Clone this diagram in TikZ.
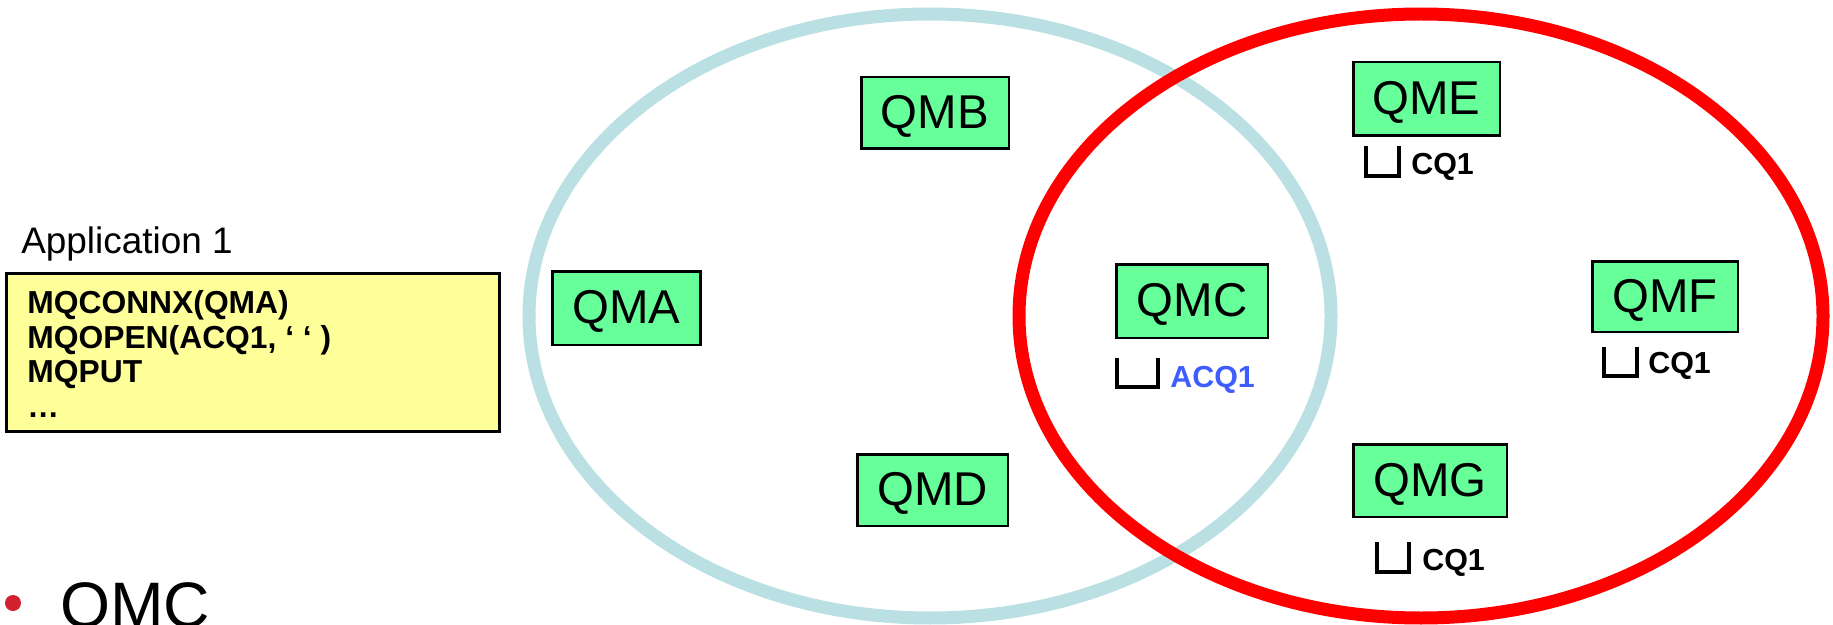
\documentclass[tikz,border=0pt]{standalone}
\usepackage{fontspec}
\setmainfont{Liberation Sans}
\usepackage{tikz}
\definecolor{clusterblue}{HTML}{BAE0E3}
\definecolor{qmgreen}{HTML}{66FF99}
\definecolor{appyellow}{HTML}{FFFF99}
\definecolor{acqblue}{HTML}{3F5CFF}
\definecolor{bulletred}{HTML}{D2202F}
\tikzset{
  qmbox/.style={draw=black, fill=qmgreen, line width=1.7pt, inner sep=0pt, text height=18.2pt, text depth=0pt, font=\fontsize{27}{30}\selectfont},
  qlabel/.style={anchor=base west, inner sep=0pt, font=\fontsize{17.3}{20}\selectfont\bfseries},
  qsym/.style={line width=1.9pt, line cap=butt},
  cluster/.style={line width=0.26cm}
}
\begin{document}
\begin{tikzpicture}[x=0.02cm, y=-0.02cm]
      \useasboundingbox (0, 0) rectangle (1833, 625);
      % the two clusters
      \draw[cluster, color=clusterblue] (930, 316) ellipse [x radius=401, y radius=302];
      \draw[cluster, color=red] (1421, 316) ellipse [x radius=402, y radius=302];
      % queue managers
      \node[qmbox, minimum width=2.98cm, minimum height=1.48cm] (qma) at (626.5, 308) {QMA};
      \node[qmbox, minimum width=2.96cm, minimum height=1.44cm] (qmb) at (935, 113) {QMB};
      \node[qmbox, minimum width=3.04cm, minimum height=1.48cm] (qmc) at (1192, 301) {QMC};
      \node[qmbox, minimum width=3.02cm, minimum height=1.44cm] (qmd) at (932.5, 490) {QMD};
      \node[qmbox, minimum width=2.94cm, minimum height=1.48cm] (qme) at (1426.5, 99) {QME};
      \node[qmbox, minimum width=2.92cm, minimum height=1.42cm] (qmf) at (1665, 296.5) {QMF};
      \node[qmbox, minimum width=3.08cm, minimum height=1.46cm] (qmg) at (1430, 480.5) {QMG};
      % queues
      \draw[qsym] (1117, 358) -- (1117, 387) -- (1158, 387) -- (1158, 358);
      \node[qlabel, text=acqblue] (acq) at (1170, 387) {ACQ1};
      \draw[qsym] (1366, 146) -- (1366, 176) -- (1399, 176) -- (1399, 146);
      \node[qlabel] (cqe) at (1411, 174) {CQ1};
      \draw[qsym] (1604, 347) -- (1604, 376) -- (1637, 376) -- (1637, 347);
      \node[qlabel] (cqf) at (1648, 373) {CQ1};
      \draw[qsym] (1377, 542) -- (1377, 572) -- (1409, 572) -- (1409, 542);
      \node[qlabel] (cqg) at (1422, 570) {CQ1};
      % application
      \node[anchor=base west, inner sep=0pt, font=\fontsize{21}{24}\selectfont] (apptitle) at (21, 253) {Application 1};
      \node[draw=black, fill=appyellow, line width=1.7pt, minimum width=9.88cm, minimum height=3.18cm] (appbox) at (253, 352.5) {};
      \node[anchor=north west, inner sep=0pt, align=left, font=\fontsize{18.1}{19.7}\selectfont\bfseries] (appcode) at (27, 290) {MQCONNX(QMA)\\MQOPEN(ACQ1, ‘ ‘ )\\MQPUT\\…};
      % bottom line
      \node[circle, fill=bulletred, inner sep=0pt, minimum size=0.32cm] (bullet) at (13, 603) {};
      \node[anchor=base west, inner sep=0pt, font=\fontsize{36.6}{40}\selectfont] (qmctext) at (60, 627) {QMC};
\end{tikzpicture}
\end{document}
